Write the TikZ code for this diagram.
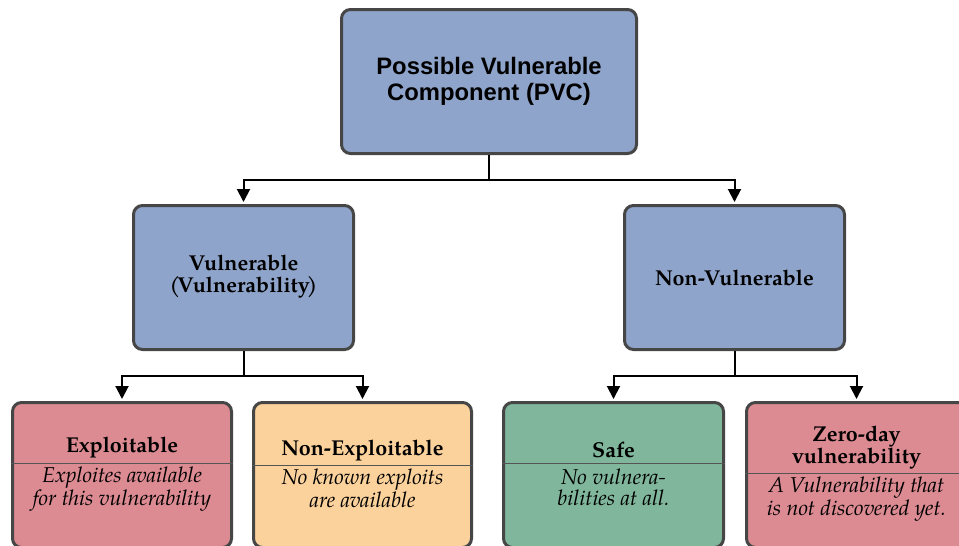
\documentclass[tikz,border=0pt]{standalone}
\usepackage{fontspec}
\setmainfont{TeX Gyre Pagella}
\newfontfamily\titlefont{Liberation Sans}
\usetikzlibrary{arrows.meta}
\definecolor{boxblue}{HTML}{8FA4CA}
\definecolor{boxpink}{HTML}{DC8B92}
\definecolor{boxorange}{HTML}{FBD19C}
\definecolor{boxgreen}{HTML}{80B79C}
\definecolor{bordergray}{HTML}{464646}
\definecolor{dividergray}{HTML}{555555}
\tikzset{
  box/.style={draw=bordergray, line width=3pt, rounded corners=9pt, inner sep=0pt, minimum height=144pt},
  arr/.style={line width=2pt, -{Triangle[length=13pt,width=13pt]}, shorten >=2pt},
  ttl/.style={font=\fontsize{21.5}{21.5}\selectfont\bfseries, align=center, anchor=base, inner sep=0pt},
  desc/.style={font=\fontsize{21.5}{21}\selectfont\itshape, align=center, anchor=base, inner sep=0pt},
  divider/.style={draw=dividergray, line width=1pt}
}
\begin{document}
\begin{tikzpicture}[x=1pt,y=-1pt]
\useasboundingbox (0,0) rectangle (959,546);
\clip (0,0) rectangle (959,546);
% boxes
\node[box, fill=boxblue, minimum width=295pt] (top) at (489,81.5) {};
\node[box, fill=boxblue, minimum width=220pt] (midL) at (243.5,277.5) {};
\node[box, fill=boxblue, minimum width=220pt] (midR) at (734.5,277.5) {};
\node[box, fill=boxpink, minimum width=219pt, minimum height=145pt] (exp) at (122,475) {};
\node[box, fill=boxorange, minimum width=218pt, minimum height=145pt] (nexp) at (362.5,475) {};
\node[box, fill=boxgreen, minimum width=220pt, minimum height=145pt] (safe) at (613.5,475) {};
\node[box, fill=boxpink, minimum width=230pt, minimum height=145pt] (zero) at (861.5,475) {};
% dividers
\coordinate (dexp) at (0,463);
\coordinate (dnexp) at (0,465);
\coordinate (dsafe) at (0,463);
\coordinate (dzero) at (0,473);
\draw[divider] (exp.west |- dexp) -- (exp.east |- dexp);
\draw[divider] (nexp.west |- dnexp) -- (nexp.east |- dnexp);
\draw[divider] (safe.west |- dsafe) -- (safe.east |- dsafe);
\draw[divider] (zero.west |- dzero) -- (zero.east |- dzero);
% texts (anchor=base refers to the last line)
\node[anchor=base, align=center, inner sep=0pt, font=\titlefont\fontsize{23.8}{26}\selectfont\bfseries] (ttop) at (489,100) {Possible Vulnerable\\Component (PVC)};
\node[ttl] (tmidL) at (243.5,292) {Vulnerable\\(\kern-3pt Vulnerability\kern-3pt)};
\node[ttl] (tmidR) at (734.5,285) {Non-Vulnerable};
\node[ttl] (texp) at (122,452) {Exploitable};
\node[desc] (dtexp) at (122,505) {Exploites available\\for this vulnerability};
\node[ttl] (tnexp) at (362.5,455) {Non-Exploitable};
\node[desc] (dtnexp) at (362.5,507) {No known exploits\\are available};
\node[ttl] (tsafe) at (613.5,457) {Safe};
\node[desc] (dtsafe) at (613.5,505) {No vulnera-\\bilities at all.};
\node[ttl] (tzero) at (856.5,463) {Zero-day\\vulnerability};
\node[desc] (dtzero) at (856.5,515) {A Vulnerability that\\is not discovered yet.};
% connectors
\coordinate (jtop) at (489,180);
\coordinate (jL) at (243.5,376);
\coordinate (jR) at (734.5,376);
\draw[arr] (top.south) -- (jtop) -| (midL.north);
\draw[arr] (top.south) -- (jtop) -| (midR.north);
\draw[arr] (midL.south) -- (jL) -| (exp.north);
\draw[arr] (midL.south) -- (jL) -| (nexp.north);
\draw[arr] (midR.south) -- (jR) -| (safe.north);
\draw[arr] (midR.south) -- (jR) -| ([xshift=-5pt]zero.north);
\end{tikzpicture}
\end{document}
